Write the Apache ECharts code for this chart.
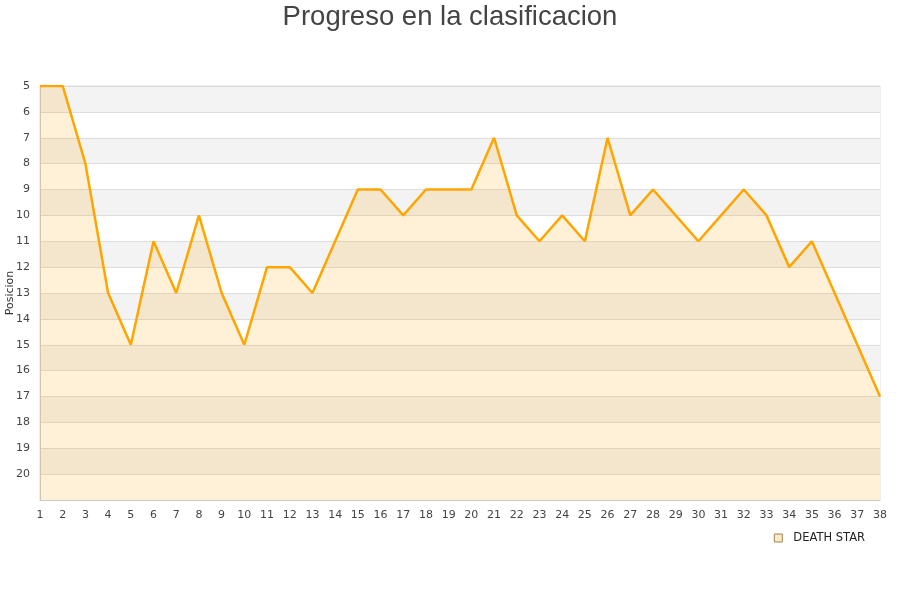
<!DOCTYPE html>
<html>
<head>
<meta charset="utf-8">
<title>Progreso en la clasificacion</title>
<script src="https://cdn.jsdelivr.net/npm/echarts@6/dist/echarts.min.js"></script>
<style>
  * { margin: 0; padding: 0 }
  html, body { width: 100%; height: 100%; background: #fff; }
  #chart { width: 900px; height: 600px; }
</style>
</head>
<body>
<div id="chart"></div>
<script type="text/javascript">
// jornadas
var jornadas = [];
for (var j = 1; j <= 38; j++) jornadas.push(String(j));

// posicion en la clasificacion por jornada
var posiciones = [5, 5, 8, 13, 15, 11, 13, 10, 13, 15,
                  12, 12, 13, 11, 9, 9, 10, 9, 9, 9,
                  7, 10, 11, 10, 11, 7, 10, 9, 10, 11,
                  10, 9, 10, 12, 11, 13, 15, 17];

var equipo = 'DEATH STAR';
var titulo = 'Progreso en la clasificacion';

var chart = echarts.init(document.getElementById('chart'));
chart.setOption({
  animation: false,
  title: {
    text: titulo,
    left: 'center',
    top: -2,
    textStyle: { fontFamily: 'Liberation Sans', fontSize: 27.5, fontWeight: 'normal', color: '#444' }
  },
  grid: {
    left: 40, right: 20, top: 86, bottom: 100,
    containLabel: false,
    outerBoundsMode: 'none',
    show: true, borderColor: '#ddd', borderWidth: 1, backgroundColor: 'transparent'
  },
  legend: {
    right: 30, top: 527,
    icon: 'rect', itemWidth: 8, itemHeight: 8,
    textStyle: { fontFamily: 'DejaVu Sans', fontSize: 11.5, color: '#222', padding: [0, 0, 0, 6] },
    itemStyle: { color: '#fdecca', borderColor: '#a08050', borderWidth: 1 },
    data: [equipo]
  },
  xAxis: {
    type: 'category',
    data: jornadas,
    boundaryGap: false,
    axisLine: { lineStyle: { color: '#ccc' } },
    axisTick: { show: false },
    axisLabel: { interval: 0, color: '#444', fontFamily: 'DejaVu Sans', fontSize: 11, margin: 10 },
    splitLine: { show: false }
  },
  yAxis: {
    type: 'value',
    inverse: true,
    min: 5, max: 21, interval: 1,
    name: 'Posicion',
    nameLocation: 'middle',
    nameRotate: 90,
    nameGap: 24,
    nameMoveOverlap: false,
    nameTextStyle: { fontFamily: 'DejaVu Sans', fontSize: 11, color: '#333' },
    axisLine: { show: true, lineStyle: { color: '#ccc' } },
    axisTick: { show: false },
    axisLabel: {
      color: '#444', fontFamily: 'DejaVu Sans', fontSize: 11, margin: 10,
      formatter: function (v) { return v === 21 ? '' : String(v); }
    },
    splitLine: { lineStyle: { color: '#ddd' } },
    splitArea: { show: true, areaStyle: { color: ['#f3f3f3', '#ffffff'] } }
  },
  series: [{
    name: equipo,
    type: 'line',
    data: posiciones,
    symbol: 'none',
    lineStyle: { color: '#ffa500', width: 2.5 },
    itemStyle: { color: '#fdecca', borderColor: '#a08050' },
    areaStyle: { color: 'rgba(255,165,0,0.22)', origin: 'end' }
  }]
});
</script>
</body>
</html>
